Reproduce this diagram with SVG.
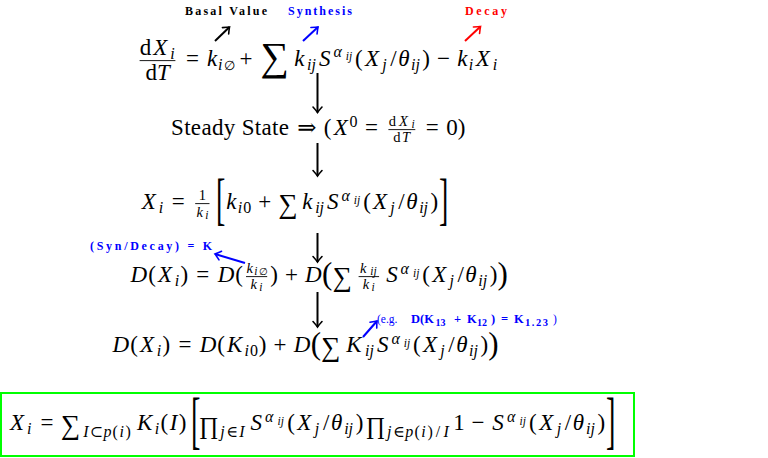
<svg xmlns="http://www.w3.org/2000/svg" width="768" height="458" viewBox="0 0 768 458">
<style>
.m{font-family:"Liberation Serif","DejaVu Serif",serif;font-size:23px;text-anchor:middle;fill:#000}
.i{font-style:italic}
.s{font-size:16px}
.f{font-size:14.5px}
.ss{font-size:11.5px}
.op{font-size:27px}
.pr{font-size:24px}
.dop{font-size:40px}
.bp{font-size:31px}
.lbl{font-family:"Liberation Serif","DejaVu Serif",serif;font-weight:bold;font-size:12px;text-anchor:middle}
.bar{stroke:#000;stroke-width:0.9}
.c{fill:none;stroke-width:2}
</style>
<defs>
<marker id="hk" markerUnits="userSpaceOnUse" orient="auto" refX="0" refY="0" markerWidth="14" markerHeight="14" viewBox="-8 -7 10 14" overflow="visible"><path d="M-5.5,-4.5 Q-1.5,-1 0,0 Q-1.5,1 -5.5,4.5" fill="none" stroke="#000" stroke-width="1.6" stroke-linecap="round"/></marker>
<marker id="hb" markerUnits="userSpaceOnUse" orient="auto" refX="0" refY="0" markerWidth="14" markerHeight="14" viewBox="-8 -7 10 14" overflow="visible"><path d="M-5.5,-4.5 Q-1.5,-1 0,0 Q-1.5,1 -5.5,4.5" fill="none" stroke="#0000ff" stroke-width="1.6" stroke-linecap="round"/></marker>
<marker id="hr" markerUnits="userSpaceOnUse" orient="auto" refX="0" refY="0" markerWidth="14" markerHeight="14" viewBox="-8 -7 10 14" overflow="visible"><path d="M-5.5,-4.5 Q-1.5,-1 0,0 Q-1.5,1 -5.5,4.5" fill="none" stroke="#ff0000" stroke-width="1.6" stroke-linecap="round"/></marker>
</defs>
<rect width="768" height="458" fill="#fff"/>

<g id="eq1">
<text class="m"><tspan x="145.6" y="55">d</tspan><tspan class="i" x="160.4" y="55">X</tspan><tspan class="i s" x="172.4" y="58.5">i</tspan></text>
<line class="bar" x1="139.6" y1="60.6" x2="175.4" y2="60.6"/>
<text class="m"><tspan x="151.2" y="80">d</tspan><tspan class="i" x="163.5" y="80">T</tspan></text>
<text class="m"><tspan x="192.4" y="66">=</tspan><tspan class="i" x="212" y="66">k</tspan><tspan class="i s" x="220.3" y="70">i</tspan><tspan x="229.5" y="70" style="font-size:13px">∅</tspan><tspan x="246" y="66">+</tspan><tspan class="dop" x="274.6" y="70">∑</tspan><tspan class="i" x="299.3" y="66">k</tspan><tspan class="i s" x="311.5" y="70">ij</tspan><tspan class="i" x="324.7" y="66">S</tspan><tspan class="i s" x="337.6" y="57">α</tspan><tspan class="i ss" x="349" y="60">ij</tspan><tspan x="358.9" y="66">(</tspan><tspan class="i" x="372" y="66">X</tspan><tspan class="i s" x="384.5" y="70">j</tspan><tspan x="393.4" y="66">/</tspan><tspan class="i" x="403.8" y="66">θ</tspan><tspan class="i s" x="415.4" y="70">ij</tspan><tspan x="426.2" y="66">)</tspan><tspan x="443.6" y="66">−</tspan><tspan class="i" x="462.3" y="66">k</tspan><tspan class="i s" x="471" y="70">i</tspan><tspan class="i" x="482.9" y="66">X</tspan><tspan class="i s" x="494.9" y="70">i</tspan></text>
</g>

<g id="label-basal"><text class="lbl" x="226" y="15" textLength="82" fill="#000">Basal Value</text></g>
<g id="label-synthesis"><text class="lbl" x="320" y="15" textLength="64" fill="#0000ff">Synthesis</text></g>
<g id="label-decay"><text class="lbl" x="486" y="15" textLength="42" fill="#ff0000">Decay</text></g>

<g id="eq2">
<text class="m" x="230" y="135" textLength="118" lengthAdjust="spacing">Steady State</text>
<text class="m"><tspan x="306.8" y="135">⇒</tspan><tspan x="327.7" y="135">(</tspan><tspan class="i" x="340.8" y="135">X</tspan><tspan class="s" x="353.5" y="126.5">0</tspan><tspan x="371.4" y="135">=</tspan><tspan class="f" x="392.3" y="125.5">d</tspan><tspan class="i f" x="403.5" y="125.5">X</tspan><tspan class="i ss" x="413.2" y="127.5">i</tspan><tspan class="f" x="396.9" y="141.5">d</tspan><tspan class="i f" x="406" y="141.5">T</tspan><tspan x="432.2" y="135">=</tspan><tspan x="452" y="135">0</tspan><tspan x="461.6" y="135">)</tspan></text>
<line class="bar" x1="388.4" y1="129.6" x2="415.3" y2="129.6"/>
</g>

<g id="eq3">
<text class="m"><tspan class="i" x="148.9" y="209">X</tspan><tspan class="i s" x="160.9" y="212.5">i</tspan><tspan x="178.3" y="209">=</tspan><tspan class="f" x="202.3" y="200">1</tspan><tspan class="i f" x="199.7" y="217">k</tspan><tspan class="i ss" x="206.9" y="219">i</tspan><tspan class="i" x="231.3" y="209">k</tspan><tspan class="i s" x="240" y="213">i</tspan><tspan class="s" x="247.3" y="213">0</tspan><tspan x="264.8" y="209">+</tspan><tspan class="op" x="288" y="213">∑</tspan><tspan class="i" x="307.4" y="209">k</tspan><tspan class="i s" x="319.6" y="213">ij</tspan><tspan class="i" x="332.8" y="209">S</tspan><tspan class="i s" x="345.7" y="201.2">α</tspan><tspan class="i ss" x="357" y="204">ij</tspan><tspan x="367" y="209">(</tspan><tspan class="i" x="380.1" y="209">X</tspan><tspan class="i s" x="392.5" y="213">j</tspan><tspan x="401.5" y="209">/</tspan><tspan class="i" x="412" y="209">θ</tspan><tspan class="i s" x="423.6" y="213">ij</tspan><tspan x="434.4" y="209">)</tspan></text>
<line class="bar" x1="195.2" y1="203.6" x2="209.5" y2="203.6"/>
<text class="m" style="font-size:56px" transform="translate(220.7,218) scale(0.5,1)">[</text>
<text class="m" style="font-size:56px" transform="translate(443.6,218) scale(0.5,1)">]</text>
</g>

<g id="eq4">
<text class="m"><tspan class="i" x="138.9" y="282">D</tspan><tspan x="152" y="282">(</tspan><tspan class="i" x="165.1" y="282">X</tspan><tspan class="i s" x="177" y="285.5">i</tspan><tspan x="184.3" y="282">)</tspan><tspan x="202.8" y="282">=</tspan><tspan class="i" x="226.1" y="282">D</tspan><tspan x="239.2" y="282">(</tspan><tspan class="i f" x="249.6" y="272.5">k</tspan><tspan class="i ss" x="255.8" y="274.5">i</tspan><tspan x="263" y="274.5" style="font-size:10px">∅</tspan><tspan class="i f" x="253.8" y="289">k</tspan><tspan class="i ss" x="260.8" y="291">i</tspan><tspan x="274" y="282">)</tspan><tspan x="291.4" y="282">+</tspan><tspan class="i" x="313.4" y="282">D</tspan><tspan class="bp" x="327.2" y="284.2">(</tspan><tspan class="op" x="342.3" y="286">∑</tspan><tspan class="i f" x="363.1" y="272.5">k</tspan><tspan class="i ss" x="373.4" y="274.5">ij</tspan><tspan class="i f" x="366" y="289">k</tspan><tspan class="i ss" x="373.2" y="291">i</tspan><tspan class="i" x="391.9" y="282">S</tspan><tspan class="i s" x="404.8" y="274.2">α</tspan><tspan class="i ss" x="416.2" y="277">ij</tspan><tspan x="426.1" y="282">(</tspan><tspan class="i" x="439.2" y="282">X</tspan><tspan class="i s" x="451.7" y="286">j</tspan><tspan x="460.6" y="282">/</tspan><tspan class="i" x="471" y="282">θ</tspan><tspan class="i s" x="482.7" y="286">ij</tspan><tspan x="493.5" y="282">)</tspan><tspan class="bp" x="502.6" y="284.2">)</tspan></text>
<line class="bar" x1="246" y1="276.6" x2="267.2" y2="276.6"/>
<line class="bar" x1="358.6" y1="276.6" x2="379.1" y2="276.6"/>
</g>

<g id="label-syn-decay"><text class="lbl" x="151" y="250" textLength="122" fill="#0000ff">(Syn/Decay) = K</text></g>

<g id="eq5">
<text class="m"><tspan class="i" x="120.9" y="352">D</tspan><tspan x="134" y="352">(</tspan><tspan class="i" x="147.1" y="352">X</tspan><tspan class="i s" x="159" y="355.5">i</tspan><tspan x="166.3" y="352">)</tspan><tspan x="184.9" y="352">=</tspan><tspan class="i" x="208.1" y="352">D</tspan><tspan x="221.2" y="352">(</tspan><tspan class="i" x="234.6" y="352">K</tspan><tspan class="i s" x="246.8" y="356">i</tspan><tspan class="s" x="254.1" y="356">0</tspan><tspan x="262.6" y="352">)</tspan><tspan x="280" y="352">+</tspan><tspan class="i" x="302" y="352">D</tspan><tspan class="bp" x="315.8" y="354.2">(</tspan><tspan class="op" x="330.9" y="356">∑</tspan><tspan class="i" x="353.8" y="352">K</tspan><tspan class="i s" x="369.5" y="356">ij</tspan><tspan class="i" x="382.7" y="352">S</tspan><tspan class="i s" x="395.6" y="344.2">α</tspan><tspan class="i ss" x="407" y="347">ij</tspan><tspan x="416.9" y="352">(</tspan><tspan class="i" x="430" y="352">X</tspan><tspan class="i s" x="442.5" y="356">j</tspan><tspan x="451.4" y="352">/</tspan><tspan class="i" x="461.9" y="352">θ</tspan><tspan class="i s" x="473.5" y="356">ij</tspan><tspan x="484.3" y="352">)</tspan><tspan class="bp" x="493.4" y="354.2">)</tspan></text>
</g>

<g id="label-eg">
<text fill="#0000ff" style="font-family:'Liberation Serif','DejaVu Serif',serif;font-weight:bold;font-size:12.5px"><tspan x="377" y="323" style="font-weight:normal;font-size:11.5px">(e.g.</tspan><tspan x="411" y="323">D(K</tspan><tspan x="435.5" y="326" style="font-size:10px">13</tspan><tspan x="454" y="323">+</tspan><tspan x="467" y="323">K</tspan><tspan x="477" y="326" style="font-size:10px">12</tspan><tspan x="491" y="323">)</tspan><tspan x="501" y="323">=</tspan><tspan x="514" y="323">K</tspan><tspan x="525" y="326" style="font-size:10.5px;letter-spacing:1.5px">1.23</tspan><tspan x="553" y="323" style="font-weight:normal;font-size:11.5px">)</tspan></text>
</g>

<g id="eq6">
<rect x="1" y="393" width="633" height="63" fill="none" stroke="#00ff00" stroke-width="2"/>
<text class="m"><tspan class="i" x="17.1" y="430">X</tspan><tspan class="i s" x="29.2" y="433.5">i</tspan><tspan x="46.9" y="430">=</tspan><tspan class="op" x="70.5" y="434">∑</tspan><tspan class="i s" x="86" y="437">I</tspan><tspan class="s" x="96.4" y="437">⊂</tspan><tspan class="i s" x="107.4" y="437">p</tspan><tspan class="s" x="115.2" y="437">(</tspan><tspan class="i s" x="121.7" y="437">i</tspan><tspan class="s" x="128.2" y="437">)</tspan><tspan class="i" x="144.6" y="430">K</tspan><tspan class="i s" x="157" y="434">i</tspan><tspan x="164.4" y="430">(</tspan><tspan class="i" x="173.5" y="430">I</tspan><tspan x="182.6" y="430">)</tspan><tspan class="pr" x="208.8" y="434">∏</tspan><tspan class="i s" x="222.5" y="437">j</tspan><tspan class="s" x="232.1" y="437">∈</tspan><tspan class="i s" x="241.9" y="437">I</tspan><tspan class="i" x="256.2" y="430">S</tspan><tspan class="i s" x="269.3" y="422.2">α</tspan><tspan class="i ss" x="280.8" y="425">ij</tspan><tspan x="291.1" y="430">(</tspan><tspan class="i" x="304.4" y="430">X</tspan><tspan class="i s" x="317.1" y="434">j</tspan><tspan x="326.1" y="430">/</tspan><tspan class="i" x="336.7" y="430">θ</tspan><tspan class="i s" x="348.6" y="434">ij</tspan><tspan x="359.6" y="430">)</tspan><tspan class="pr" x="375.6" y="434">∏</tspan><tspan class="i s" x="389.3" y="437">j</tspan><tspan class="s" x="398.8" y="437">∈</tspan><tspan class="i s" x="409.3" y="437">p</tspan><tspan class="s" x="417.1" y="437">(</tspan><tspan class="i s" x="423.6" y="437">i</tspan><tspan class="s" x="430.1" y="437">)</tspan><tspan class="s" x="437.9" y="437">/</tspan><tspan class="i s" x="446.1" y="437">I</tspan><tspan x="459.1" y="430">1</tspan><tspan x="478" y="430">−</tspan><tspan class="i" x="498.1" y="430">S</tspan><tspan class="i s" x="511.2" y="422.2">α</tspan><tspan class="i ss" x="522.7" y="425">ij</tspan><tspan x="532.9" y="430">(</tspan><tspan class="i" x="546.2" y="430">X</tspan><tspan class="i s" x="558.9" y="434">j</tspan><tspan x="568" y="430">/</tspan><tspan class="i" x="578.5" y="430">θ</tspan><tspan class="i s" x="590.4" y="434">ij</tspan><tspan x="601.4" y="430">)</tspan></text>
<text class="m" style="font-size:63px" transform="translate(195.6,440.6) scale(0.45,1)">[</text>
<text class="m" style="font-size:63px" transform="translate(610.7,440.6) scale(0.45,1)">]</text>
</g>

<g id="connectors">
<line class="c" stroke="#000" x1="317.5" y1="73" x2="317.5" y2="112.5" marker-end="url(#hk)"/>
<line class="c" stroke="#000" x1="317.5" y1="143" x2="317.5" y2="176" marker-end="url(#hk)"/>
<line class="c" stroke="#000" x1="317.5" y1="233" x2="317.5" y2="262" marker-end="url(#hk)"/>
<line class="c" stroke="#000" x1="317.5" y1="292" x2="317.5" y2="327" marker-end="url(#hk)"/>
<line class="c" stroke="#000" x1="215" y1="41" x2="229.5" y2="27" marker-end="url(#hk)"/>
<line class="c" stroke="#0000ff" x1="303" y1="41" x2="318" y2="27" marker-end="url(#hb)"/>
<line class="c" stroke="#ff0000" x1="465" y1="41" x2="480.5" y2="26.5" marker-end="url(#hr)"/>
<line class="c" stroke="#0000ff" x1="245" y1="263" x2="215" y2="254" marker-end="url(#hb)"/>
<line class="c" stroke="#0000ff" x1="363" y1="337" x2="377" y2="321" marker-end="url(#hb)"/>
</g>
</svg>
